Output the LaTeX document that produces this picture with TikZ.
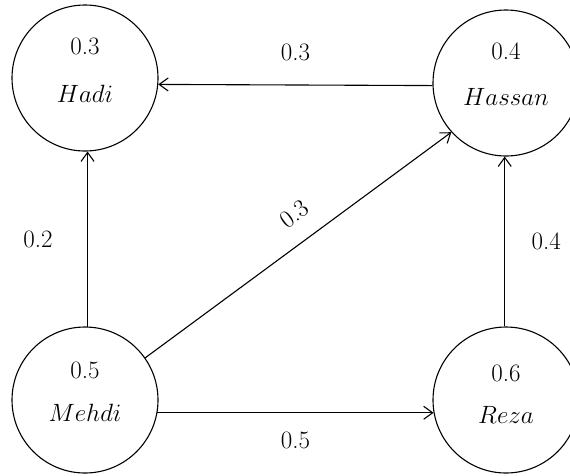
\RequirePackage{fix-cm}
\documentclass[tikz,border=0pt]{standalone}
\usepackage{fontspec}
\usetikzlibrary{arrows.meta}
\tikzset{
  state/.style={circle,draw,minimum size=146pt,inner sep=0pt},
  wlabel/.style={font=\fontsize{25}{30}\selectfont},
}
\begin{document}
\begin{tikzpicture}[x=1pt,y=-1pt,line width=1.1pt,
    -{Straight Barb[length=9pt,width=13pt]},every node/.style={wlabel}]
                \useasboundingbox (0,0) rectangle (570,475);
                \node [state] (hadi) at (85,78) {};
                \node [state] (hassan) at (506,83) {};
                \node [state] (mehdi) at (85,400) {};
                \node [state] (reza) at (506,400) {};
                % probability and name in each circle
                \node (hadip) at (hadi) [yshift=32pt] {0.3};
                \node (hadin) at (hadi) [yshift=-16pt] {$Hadi$};
                \node (hassanp) at (hassan) [yshift=32pt] {0.4};
                \node (hassann) at (hassan) [yshift=-14pt] {$Hassan$};
                \node (mehdip) at (mehdi) [yshift=30pt] {0.5};
                \node (mehdin) at (mehdi) [yshift=-13pt] {$Mehdi$};
                \node (rezap) at (reza) [yshift=27pt] {0.6};
                \node (rezan) at (reza) [yshift=-15pt] {$Reza$};
                \path (hassan.182) edge node (wone) [above=20pt] {0.3} (hadi.-5);
                \path (mehdi.88) edge node (wtwo) [left=31pt] {0.2} (hadi.-88);
                \path (mehdi.35) edge node (wthree) [pos=0.54,sloped,above=15pt] {0.3} (hassan.222);
                \path (mehdi.-10) edge node (wfour) [below=15pt] {0.5} (reza.190);
                \path (reza.91) edge node (wfive) [right=23pt] {0.4} (hassan.-91);
            \end{tikzpicture}
\end{document}
